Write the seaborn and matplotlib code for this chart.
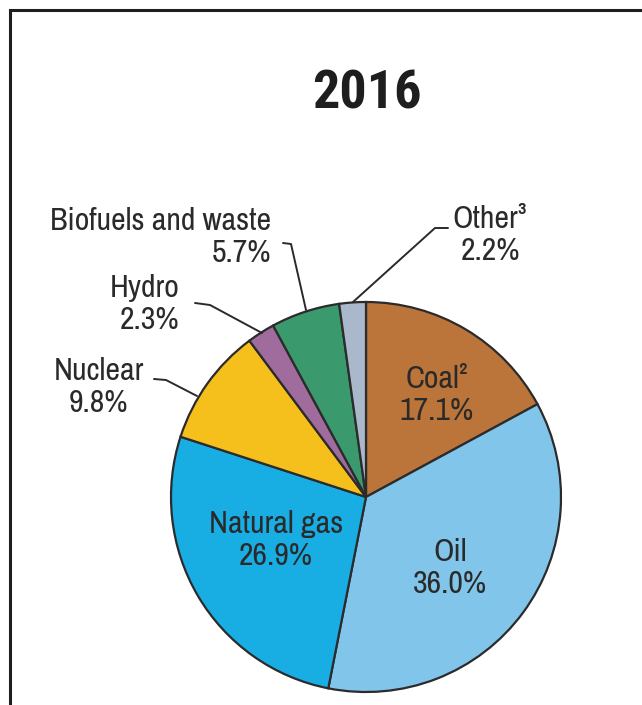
import matplotlib
matplotlib.use("Agg")
import matplotlib.pyplot as plt
import seaborn as sns

# ---- data ----
title = "2016"
categories = ["Coal²", "Oil", "Natural gas", "Nuclear", "Hydro", "Biofuels and waste", "Other³"]
shares = [17.1, 36.0, 26.9, 9.8, 2.3, 5.7, 2.2]
colors = ["#bb753a", "#82c5ea", "#18aee4", "#f5bf1c", "#a06c9e", "#3b9a6d", "#a9b8cb"]

sns.set_theme(style="white")
plt.rcParams["font.family"] = ["Archivo Narrow", "Roboto Condensed", "DejaVu Sans"]

W, H = 642, 705
fig = plt.figure(figsize=(W / 100, H / 100), dpi=100)
ax = fig.add_axes([0, 0, 1, 1])

def Y(py):
    return H - py

cx, cy, r = 366, 497, 195
ax.pie(shares, colors=colors, startangle=90, counterclock=False,
       center=(cx, Y(cy)), radius=r, frame=True,
       wedgeprops=dict(edgecolor="#2b2b2b", linewidth=1.6))

ax.set_xlim(0, W)
ax.set_ylim(0, H)
ax.set_aspect("equal")
ax.axis("off")

# frame (top and left only)
ax.plot([10, 10, W], [Y(H), Y(10), Y(10)], color="#1e1e1e", lw=2.2,
        solid_joinstyle="miter", clip_on=False)

txt = dict(color="#2a2a2a", fontsize=23, linespacing=1.15)

ax.text(367, Y(94), title, ha="center", va="center", fontsize=39,
        fontweight="bold", color="#1e1e1e",
        family=["Roboto Condensed", "DejaVu Sans"])

def lbl(i):
    return f"{categories[i]}\n{shares[i]:.1f}%"

# inside labels
ax.text(437, Y(395), lbl(0), ha="center", va="center", **txt)
ax.text(450, Y(568), lbl(1), ha="center", va="center", **txt)
ax.text(276, Y(540), lbl(2), ha="center", va="center", **txt)

# outside labels
ax.text(99, Y(387), lbl(3), ha="center", va="center", **txt)
ax.text(179, Y(304), lbl(4), ha="right", va="center", multialignment="right", **txt)
ax.text(271, Y(237), lbl(5), ha="right", va="center", multialignment="right", **txt)
ax.text(490, Y(235), lbl(6), ha="center", va="center", **txt)

# leader lines
leaders = [
    [(154, 379), (166, 380), (197, 396)],
    [(195, 303), (210, 305), (262, 333)],
    [(283, 243), (291, 244), (306, 310)],
    [(448, 228), (435, 228), (353, 302)],
]
for pts in leaders:
    xs = [p[0] for p in pts]
    ys = [Y(p[1]) for p in pts]
    ax.plot(xs, ys, color="#2a2a2a", lw=1.4)

fig.savefig("out.png", dpi=100, facecolor="white")
